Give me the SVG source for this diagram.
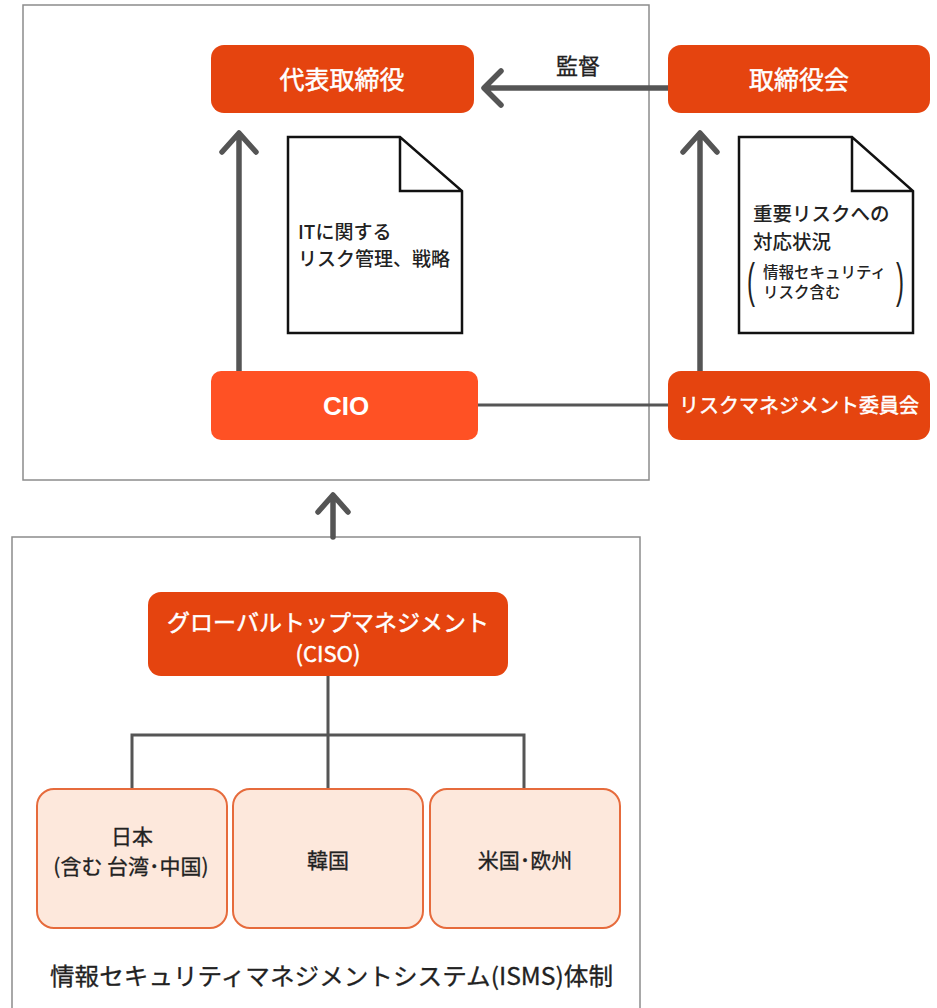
<svg xmlns="http://www.w3.org/2000/svg" width="937" height="1008" viewBox="0 0 937 1008">
<style>
.frame{fill:#fff;stroke:#8c8c8c;stroke-width:1.5}
.node{fill:#E5440F}
.cio{fill:#FF5124}
.sub{fill:#FDE8DC;stroke:#E66B3C;stroke-width:2}
.doc{fill:#fff;stroke:#111;stroke-width:2.5;stroke-linejoin:miter}
.arrow{fill:none;stroke:#555;stroke-width:5.5;stroke-linecap:round;stroke-linejoin:round}
.line{fill:none;stroke:#555;stroke-width:3}
text{font-family:"Noto Sans CJK JP","Noto Sans",sans-serif}
.wt{fill:#fff;stroke:#fff;stroke-width:0.5;font-weight:400;text-anchor:middle}
.dk{fill:#222;font-weight:500}
.rg{fill:#222;stroke:#222;stroke-width:0.3;font-weight:400}
.rgc{fill:#222;stroke:#222;stroke-width:0.3;font-weight:400;text-anchor:middle}
.paren{fill:#222;font-weight:400;font-family:"Liberation Sans",sans-serif}
.bold{fill:#fff;font-weight:700;text-anchor:middle;font-family:"Liberation Sans",sans-serif}
</style>
<rect width="937" height="1008" fill="#fff"/>
<rect class="frame" x="23" y="5" width="626" height="475"/>
<rect class="frame" x="12" y="537" width="628" height="480"/>

<g id="connectors">
  <path class="arrow" d="M668 88 H485 M501 71 L484 88 L501 105"/>
  <path class="arrow" d="M239 372 V134 M222 152 L239 133 L256 152"/>
  <path class="arrow" d="M700 372 V134 M683 152 L700 133 L717 152"/>
  <path class="line" d="M478 405 H668"/>
  <path class="arrow" d="M333 537 V496 M318 512 L333 495 L348 512"/>
  <path class="line" d="M328 676 V788 M132 788 V735 H524 V788"/>
  <text class="rgc" x="578" y="74" font-size="22">監督</text>
</g>

<g id="n-daihyo">
  <rect class="node" x="211" y="45" width="263" height="68" rx="13"/>
  <text class="wt" x="342" y="89" font-size="25">代表取締役</text>
</g>
<g id="n-torishimariyakukai">
  <rect class="node" x="668" y="45" width="262" height="68" rx="13"/>
  <text class="wt" x="799" y="89" font-size="25">取締役会</text>
</g>
<g id="doc-it">
  <path class="doc" d="M288 137 H400 L462 191 V333 H288 Z M400 137 V191 H462"/>
  <text class="dk" x="298" y="239" font-size="19">ITに関する</text>
  <text class="dk" x="298" y="266" font-size="19">リスク管理、戦略</text>
</g>
<g id="doc-risk">
  <path class="doc" d="M739 137 H852 L913 191 V333 H739 Z M852 137 V191 H913"/>
  <text class="dk" x="753" y="221" font-size="19.5">重要リスクへの</text>
  <text class="dk" x="753" y="249" font-size="19.5">対応状況</text>
  <text class="paren" x="747" y="297" font-size="48" transform="translate(747 297) scale(0.5 1) translate(-747 -297)">(</text>
  <text class="paren" x="896" y="297" font-size="48" transform="translate(896 297) scale(0.5 1) translate(-896 -297)">)</text>
  <text class="dk" x="763" y="278" font-size="15.5">情報セキュリティ</text>
  <text class="dk" x="763" y="298" font-size="15.5">リスク含む</text>
</g>
<g id="n-cio">
  <rect class="cio" x="211" y="371" width="267" height="69" rx="10"/>
  <text class="bold" x="346" y="415" font-size="26">CIO</text>
</g>
<g id="n-riskcommittee">
  <rect class="node" x="668" y="371" width="262" height="69" rx="13"/>
  <text class="wt" x="799" y="413" font-size="20">リスクマネジメント委員会</text>
</g>
<g id="n-global">
  <rect class="node" x="148" y="592" width="360" height="84" rx="13"/>
  <text class="wt" x="328" y="631" font-size="23">グローバルトップマネジメント</text>
  <text class="wt" x="328" y="662" font-size="22">(CISO)</text>
</g>
<g id="n-japan">
  <rect class="sub" x="37" y="789" width="190" height="139" rx="17"/>
  <text class="rgc" x="132" y="844" font-size="21">日本</text>
  <text class="rgc" x="131" y="874" font-size="21">(含む 台湾･中国)</text>
</g>
<g id="n-korea">
  <rect class="sub" x="233" y="789" width="190" height="139" rx="17"/>
  <text class="rgc" x="328" y="868" font-size="21">韓国</text>
</g>
<g id="n-useu">
  <rect class="sub" x="430" y="789" width="190" height="139" rx="17"/>
  <text class="rgc" x="525" y="868" font-size="21">米国･欧州</text>
</g>
<text class="rg" x="50" y="985" font-size="24" textLength="563" lengthAdjust="spacingAndGlyphs">情報セキュリティマネジメントシステム(ISMS)体制</text>
</svg>
